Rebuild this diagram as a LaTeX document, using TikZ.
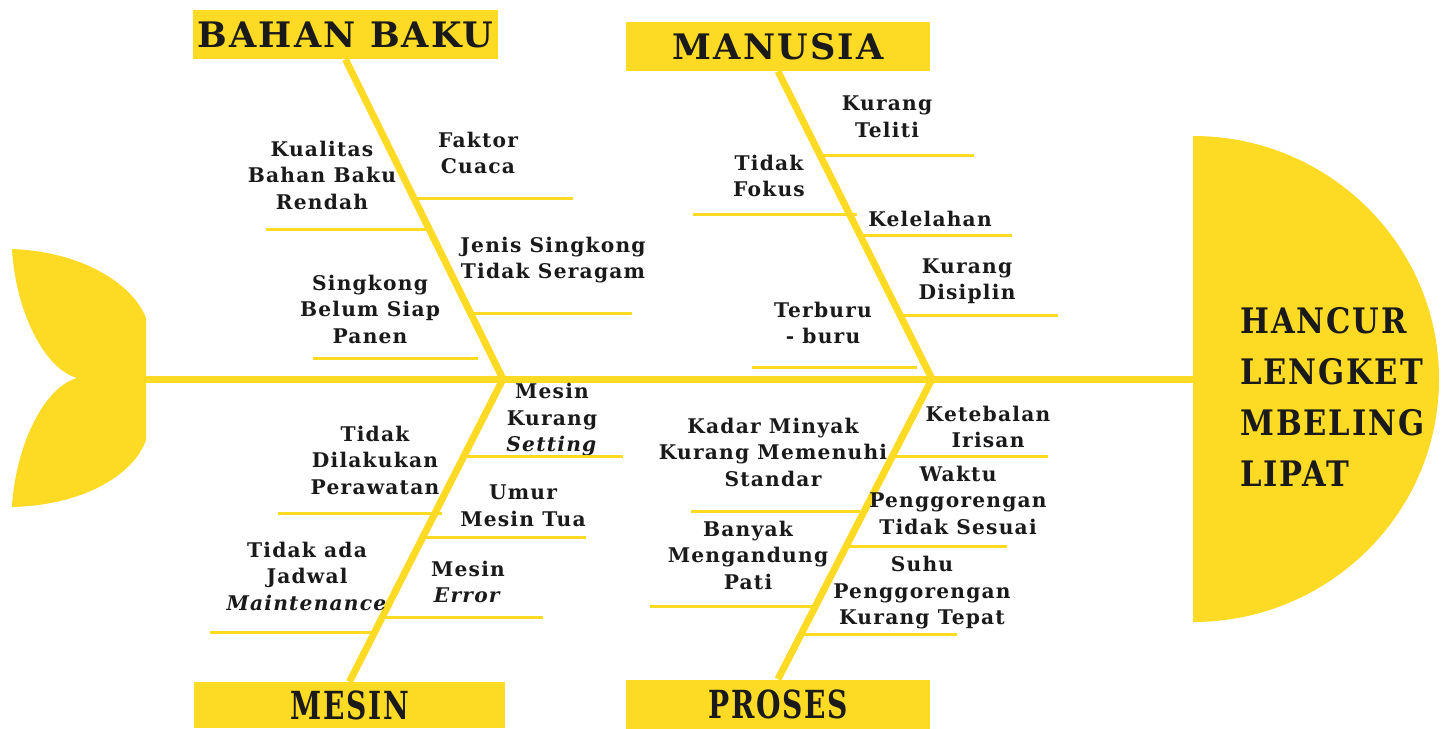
\documentclass[tikz,border=0pt]{standalone}
\usepackage{fontspec}
\setmainfont{DejaVu Serif}[LetterSpace=6]
\definecolor{fishyellow}{HTML}{FDDA24}
\definecolor{ink}{HTML}{1A1A1A}
\begin{document}
\begin{tikzpicture}[
  x=0.02cm, y=-0.02cm,
  every node/.style={inner sep=0pt,text=ink},
  cause/.style={align=center,font=\fontsize{11.5}{15.1}\selectfont\bfseries},
  catbox/.style={fill=fishyellow,minimum width=6.1cm,minimum height=0.98cm,font=\fontsize{20}{24}\selectfont\bfseries},
  spine/.style={draw=fishyellow,line width=0.14cm},
  twig/.style={draw=fishyellow,line width=0.06cm}
]
\useasboundingbox (0,0) rectangle (1441,728);
% tail and head
\fill[fishyellow] (12,249) .. controls (88,252) and (135,288) .. (146,318) -- (146,440)
  .. controls (135,472) and (88,505) .. (12,507) .. controls (15,450) and (42,388) .. (77,378)
  .. controls (42,368) and (15,306) .. (12,249);
\fill[fishyellow] (1193,136) arc[start angle=-90,end angle=90,x radius=246,y radius=243] -- cycle;
\node[anchor=west,font=\fontsize{20}{29}\selectfont\bfseries] (effect) at (1240,400)
  {\scalebox{0.87}[1]{\begin{tabular}{@{}l@{}}HANCUR\\LENGKET\\MBELING\\LIPAT\end{tabular}}};
\coordinate (tail) at (146,379);
\coordinate (head) at (1194,379);
\coordinate (jb) at (503,379);
\coordinate (jp) at (932,379);
\draw[spine] (tail)--(head);
% categories
\node[catbox] (bahan) at (345.5,34.5) {BAHAN BAKU};
\node[catbox] (manusia) at (778,46.5) {MANUSIA};
\node[catbox,minimum width=6.22cm,minimum height=0.92cm] (mesin) at (349.5,705) {\scalebox{0.8}[1.1]{MESIN}};
\node[catbox] (proses) at (778,704) {\scalebox{0.8}[1.1]{PROSES}};
\draw[spine] (bahan.south)--(jb);
\draw[spine] (manusia.south)--(jp);
\draw[spine] (mesin.north)--(jb);
\draw[spine] (proses.north)--(jp);
% bahan baku
\node[cause] (kualitas) at (322,175) {Kualitas\\Bahan Baku\\Rendah};
\node[cause] (cuaca) at (478,153) {Faktor\\Cuaca};
\node[cause] (jenis) at (553,260) {Jenis Singkong\\Tidak Seragam};
\node[cause] (belum) at (370,309) {Singkong\\Belum Siap\\Panen};
\coordinate (cuaca-a) at (416,198); \coordinate (cuaca-b) at (573,198);
\coordinate (kual-a) at (266,229); \coordinate (kual-b) at (427,229);
\coordinate (jenis-a) at (474,313); \coordinate (jenis-b) at (632,313);
\coordinate (belum-a) at (313,358); \coordinate (belum-b) at (478,358);
\draw[twig] (cuaca-a)--(cuaca-b);
\draw[twig] (kual-a)--(kual-b);
\draw[twig] (jenis-a)--(jenis-b);
\draw[twig] (belum-a)--(belum-b);
% manusia
\node[cause] (teliti) at (887,117) {Kurang\\Teliti};
\node[cause] (fokus) at (769,176) {Tidak\\Fokus};
\node[cause] (lelah) at (930,219) {Kelelahan};
\node[cause] (disiplin) at (967,281) {Kurang\\Disiplin};
\node[cause] (buru) at (823,323) {Terburu\\- buru};
\coordinate (teliti-a) at (820,155); \coordinate (teliti-b) at (974,155);
\coordinate (fokus-a) at (693,214); \coordinate (fokus-b) at (857,214);
\coordinate (lelah-a) at (861,235); \coordinate (lelah-b) at (1012,235);
\coordinate (disiplin-a) at (901,315); \coordinate (disiplin-b) at (1058,315);
\coordinate (buru-a) at (752,367); \coordinate (buru-b) at (917,367);
\draw[twig] (teliti-a)--(teliti-b);
\draw[twig] (fokus-a)--(fokus-b);
\draw[twig] (lelah-a)--(lelah-b);
\draw[twig] (disiplin-a)--(disiplin-b);
\draw[twig] (buru-a)--(buru-b);
% mesin
\node[cause] (setting) at (552,420) {Mesin\\Kurang\\\textit{Setting}};
\node[cause] (rawat) at (375,460) {Tidak\\Dilakukan\\Perawatan};
\node[cause] (umur) at (523,506) {Umur\\Mesin Tua};
\node[cause] (jadwal) at (307,576) {Tidak ada\\Jadwal\\\textit{Maintenance}};
\node[cause] (error) at (468,582) {Mesin\\\textit{Error}};
\coordinate (setting-a) at (466,456); \coordinate (setting-b) at (623,456);
\coordinate (rawat-a) at (278,513); \coordinate (rawat-b) at (442,513);
\coordinate (umur-a) at (426,537); \coordinate (umur-b) at (586,537);
\coordinate (jadwal-a) at (210,632); \coordinate (jadwal-b) at (372,632);
\coordinate (error-a) at (386,617); \coordinate (error-b) at (543,617);
\draw[twig] (setting-a)--(setting-b);
\draw[twig] (rawat-a)--(rawat-b);
\draw[twig] (umur-a)--(umur-b);
\draw[twig] (jadwal-a)--(jadwal-b);
\draw[twig] (error-a)--(error-b);
% proses
\node[cause] (tebal) at (988,427) {Ketebalan\\Irisan};
\node[cause] (kadar) at (773,452) {Kadar Minyak\\Kurang Memenuhi\\Standar};
\node[cause] (waktu) at (958,500) {Waktu\\Penggorengan\\Tidak Sesuai};
\node[cause] (pati) at (748,555) {Banyak\\Mengandung\\Pati};
\node[cause] (suhu) at (922,593) {Suhu\\Penggorengan\\Kurang Tepat};
\coordinate (tebal-a) at (893,456); \coordinate (tebal-b) at (1048,456);
\coordinate (kadar-a) at (691,511); \coordinate (kadar-b) at (860,511);
\coordinate (waktu-a) at (848,546); \coordinate (waktu-b) at (1007,546);
\coordinate (pati-a) at (650,606); \coordinate (pati-b) at (812,606);
\coordinate (suhu-a) at (803,634); \coordinate (suhu-b) at (957,634);
\draw[twig] (tebal-a)--(tebal-b);
\draw[twig] (kadar-a)--(kadar-b);
\draw[twig] (waktu-a)--(waktu-b);
\draw[twig] (pati-a)--(pati-b);
\draw[twig] (suhu-a)--(suhu-b);
\end{tikzpicture}
\end{document}
